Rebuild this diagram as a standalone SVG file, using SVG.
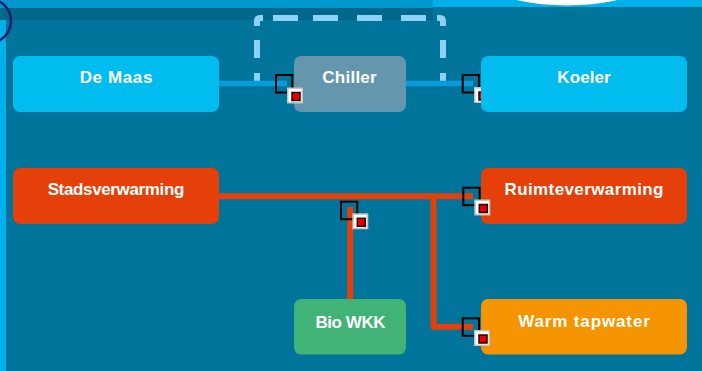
<svg xmlns="http://www.w3.org/2000/svg" width="702" height="371" viewBox="0 0 702 371">
<style>
.lbl{font-family:"Liberation Sans",Arial,sans-serif;font-weight:bold;font-size:17px;fill:#ffffff;text-anchor:middle}
.blue{fill:#00BCEF}
.red{fill:#E5400A}
.bl{stroke:#0A9BDB;stroke-width:5.5;fill:none}
.or{stroke:#E5400A;stroke-width:6;fill:none;stroke-linejoin:round}
.dash{stroke:#8DD2F4;stroke-width:6;fill:none;stroke-linejoin:round}
</style>
<defs>
<g id="mk">
<rect x="0" y="0" width="16" height="16" fill="#c4c4c4"/>
<rect x="1.5" y="1.5" width="13" height="13" fill="#ffffff"/>
<rect x="5" y="5" width="8" height="8" fill="#E60000" stroke="#2a0000" stroke-width="1.5"/>
</g>
<rect id="bx" x="1" y="1" width="16.3" height="17.5" fill="none" stroke="#000000" stroke-width="2"/>
</defs>
<!-- background -->
<rect x="0" y="0" width="702" height="371" fill="#00749A"/>
<rect x="0" y="0" width="433" height="8" fill="#0098CE"/>
<rect x="433" y="0" width="269" height="7" fill="#00B0EB"/>
<rect x="0" y="8" width="433" height="12" fill="#00688B"/>
<rect x="0" y="20" width="6" height="351" fill="#00B0EB"/>
<ellipse cx="567" cy="-9.5" rx="65" ry="15" fill="#ffffff"/>
<circle cx="-11" cy="21" r="22" fill="none" stroke="#2B1C6F" stroke-width="2.5"/>
<!-- connectors -->
<g id="connectors">
<path class="dash" d="M257,26 V21 Q257,18 260,18 H263"/>
<path class="dash" d="M257,40 V58 M257,73 V81"/>
<path class="dash" d="M273,18 H298 M313,18 H338 M357,18 H382 M401,18 H426"/>
<path class="dash" d="M437,18 H440 Q443,18 443,21 V26"/>
<path class="dash" d="M443,40 V58 M443,73 V81"/>
<line class="bl" x1="219" y1="83.5" x2="287" y2="83.5"/>
<line class="bl" x1="406" y1="83.5" x2="473" y2="83.5"/>
<line class="or" x1="219" y1="196.3" x2="473" y2="196.3"/>
<line class="or" x1="350.3" y1="207" x2="350.3" y2="299"/>
<path class="or" d="M433.5,196.3 V326.7 H473"/>
<g id="handle-koeler">
<use href="#bx" x="461.7" y="74"/>
<use href="#mk" x="474" y="87"/>
</g>
</g>
<!-- nodes -->
<g id="node-demaas">
<rect class="blue" x="13" y="56" width="206" height="56" rx="7"/>
<text class="lbl" x="116" y="82.7" textLength="72.7" lengthAdjust="spacing">De Maas</text>
</g>
<g id="node-chiller">
<rect x="294" y="56" width="112" height="56" rx="7" fill="#6497AE"/>
<text class="lbl" x="349.5" y="82.7" textLength="54.3" lengthAdjust="spacing">Chiller</text>
</g>
<g id="node-koeler">
<rect class="blue" x="481" y="56" width="206" height="56" rx="7"/>
<text class="lbl" x="584" y="83" textLength="53.3" lengthAdjust="spacing">Koeler</text>
</g>
<g id="node-stadsverwarming">
<rect class="red" x="13" y="168" width="206" height="56" rx="7"/>
<text class="lbl" x="116" y="195" textLength="136.7" lengthAdjust="spacing">Stadsverwarming</text>
</g>
<g id="node-ruimteverwarming">
<rect class="red" x="481" y="168" width="206" height="56" rx="7"/>
<text class="lbl" x="584" y="194.5" textLength="159" lengthAdjust="spacing">Ruimteverwarming</text>
</g>
<g id="node-biowkk">
<rect x="294" y="299" width="112" height="55.5" rx="7" fill="#41B377"/>
<text class="lbl" x="350.5" y="328" textLength="70" lengthAdjust="spacing">Bio WKK</text>
</g>
<g id="node-warmtapwater">
<rect x="481" y="299" width="206" height="55.5" rx="7" fill="#F39400"/>
<text class="lbl" x="584" y="326.7" textLength="131.7" lengthAdjust="spacing">Warm tapwater</text>
</g>
<!-- selection handles -->
<g id="handles">
<use href="#bx" x="275" y="74"/>
<use href="#mk" x="287" y="87.5"/>
<use href="#bx" x="462.3" y="186.7"/>
<use href="#mk" x="474.3" y="199.5"/>
<use href="#bx" x="340" y="200.7"/>
<use href="#mk" x="352.3" y="213.3"/>
<use href="#bx" x="461.7" y="317.3"/>
<use href="#mk" x="474" y="330"/>
</g>
</svg>
